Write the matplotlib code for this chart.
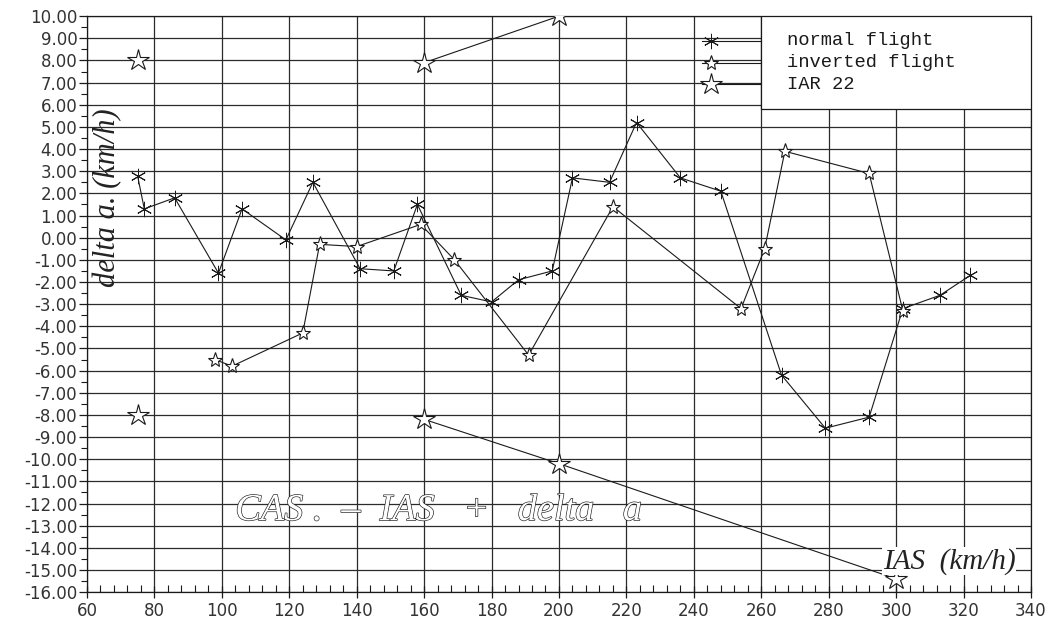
import numpy as np
import matplotlib
matplotlib.use("Agg")
import matplotlib.pyplot as plt
import matplotlib.patheffects as pe
from matplotlib.ticker import MultipleLocator, FormatStrFormatter

# normal flight (asterisk markers)
normal_ias = [75, 77, 86, 99, 106, 119, 127, 141, 151, 158, 171, 180, 188, 198,
              204, 215, 223, 236, 248, 266, 279, 292, 302, 313, 322]
normal_delta = [2.8, 1.3, 1.8, -1.6, 1.3, -0.1, 2.5, -1.4, -1.5, 1.5, -2.6, -2.9, -1.9, -1.5,
                2.7, 2.5, 5.2, 2.7, 2.1, -6.2, -8.6, -8.1, -3.2, -2.6, -1.7]

# inverted flight
inverted_ias = [98, 103, 124, 129, 140, 159, 169, 191, 216, 254, 261, 267, 292, 302]
inverted_delta = [-5.5, -5.8, -4.3, -0.3, -0.4, 0.6, -1.0, -5.3, 1.4, -3.2, -0.5, 3.9, 2.9, -3.3]

# IAR 22 (nan splits it into separate runs)
iar_ias = [75, np.nan, 75, np.nan, 160, 200, np.nan, 160, 200, 300]
iar_delta = [8.0, np.nan, -8.0, np.nan, 7.9, 10.0, np.nan, -8.2, -10.2, -15.4]

series_names = ["normal flight", "inverted flight", "IAR 22"]

fig = plt.figure(figsize=(10.53, 6.22), dpi=100)
ax = fig.add_axes([0.0826, 0.048, 0.8965, 0.926])

ink = "#1a1a1a"
ax.plot(normal_ias, normal_delta, color=ink, lw=0.8, marker=(6, 2, 0), ms=11,
        mew=0.7, zorder=3)
ax.plot(inverted_ias, inverted_delta, color=ink, lw=0.8, marker="*", ms=11,
        mfc="white", mec=ink, mew=0.8, zorder=3)
ax.plot(iar_ias, iar_delta, color=ink, lw=0.8, marker="*", ms=16,
        mfc="white", mec=ink, mew=0.8, zorder=3)

ax.set_xlim(60, 340)
ax.set_ylim(-16, 10)
ax.xaxis.set_major_locator(MultipleLocator(20))
ax.xaxis.set_minor_locator(MultipleLocator(4))
ax.yaxis.set_major_locator(MultipleLocator(1))
ax.yaxis.set_minor_locator(MultipleLocator(0.5))
ax.yaxis.set_major_formatter(FormatStrFormatter("%.2f"))
ax.grid(True, which="major", color="#2b2b2b", lw=0.9)
ax.set_axisbelow(True)

ax.tick_params(axis="y", which="major", direction="out", length=6, width=0.9,
               labelsize=12, pad=1, colors=ink, labelcolor="#333333")
ax.tick_params(axis="y", which="minor", direction="out", length=4, width=0.8, colors=ink)
ax.tick_params(axis="x", which="major", direction="inout", length=8, width=0.9,
               labelsize=12, pad=3, colors=ink, labelcolor="#333333")
ax.tick_params(axis="x", which="minor", direction="in", length=5, width=0.8, colors=ink)
for sp in ax.spines.values():
    sp.set_color(ink)
    sp.set_linewidth(0.9)

# legend drawn by hand: markers outside the box, text inside
box = plt.Rectangle((0.714, 0.838), 0.286, 0.162, transform=ax.transAxes,
                    facecolor="white", edgecolor=ink, lw=0.9, zorder=4)
ax.add_patch(box)
rows = [0.957, 0.919, 0.882]
styles = [dict(marker=(6, 2, 0), ms=11, mew=0.7),
          dict(marker="*", ms=11, mfc="white", mew=0.8),
          dict(marker="*", ms=16, mfc="white", mew=0.8)]
for name, yr, st in zip(series_names, rows, styles):
    ax.plot([0.652, 0.714], [yr, yr], transform=ax.transAxes, color=ink, lw=0.8,
            zorder=4, clip_on=False)
    ax.plot([0.661], [yr], transform=ax.transAxes, color=ink, ls="none",
            zorder=5, clip_on=False, **st)
    ax.text(0.742, yr, name, transform=ax.transAxes, family="Liberation Mono",
            fontsize=13.5, va="center", ha="left", color=ink, zorder=5)

ax.text(66, 1.8, "delta a. (km/h)", rotation=90, ha="center", va="center",
        family="Liberation Serif", style="italic", fontsize=22, color="#222222",
        zorder=4)

ax.text(104, -12.75, "CAS .  \u2013  IAS   +   delta   a", ha="left", va="baseline",
        family="Liberation Serif", style="italic", fontsize=27.5, color="white",
        zorder=4,
        path_effects=[pe.Stroke(linewidth=0.9, foreground=ink), pe.Normal()])

ax.text(296, -14.6, "IAS  (km/h)", ha="left", va="center",
        family="Liberation Serif", style="italic", fontsize=21, color="#222222",
        zorder=4, bbox=dict(facecolor="white", edgecolor="none", pad=0.5))

fig.savefig("out.png", dpi=100, facecolor="white")
